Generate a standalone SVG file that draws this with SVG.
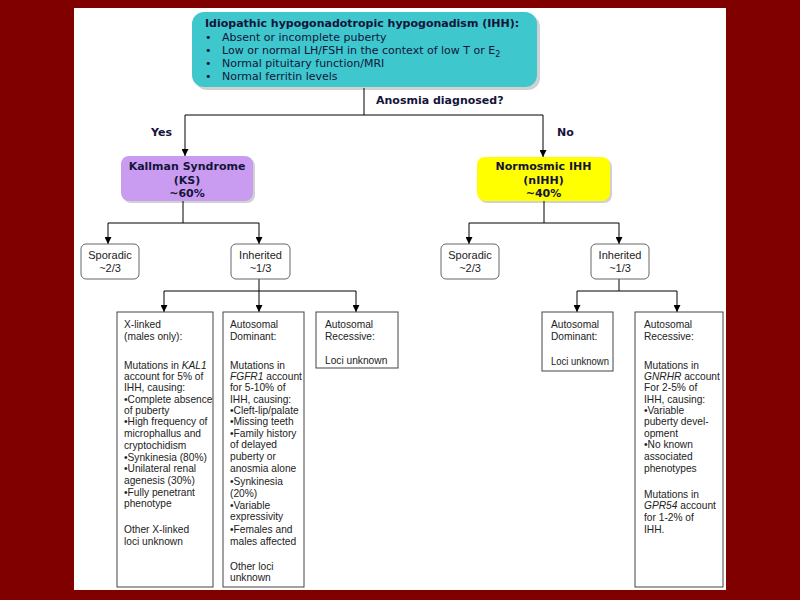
<svg xmlns="http://www.w3.org/2000/svg" width="800" height="600" viewBox="0 0 800 600">
<defs>
<marker id="arr" markerUnits="userSpaceOnUse" markerWidth="7" markerHeight="7" refX="7" refY="3.5" orient="auto">
<path d="M0,0 L7,3.5 L0,7 z" fill="#000"/>
</marker>
<style>
.vb{font-family:"DejaVu Sans",Verdana,sans-serif;font-size:11px;font-weight:bold;fill:#14143a}
.vr{font-family:"DejaVu Sans",Verdana,sans-serif;font-size:11px;fill:#14143a}
.ar{font-family:"Liberation Sans",Arial,sans-serif;font-size:11px;fill:#222}
.sm{font-family:"Liberation Sans",Arial,sans-serif;font-size:10.2px;fill:#222}
.ln{stroke:#000;stroke-width:1;fill:none}
.arw{stroke:#000;stroke-width:1;fill:none;marker-end:url(#arr)}
.rbox{fill:#fff;stroke:#666;stroke-width:1}
.sbox{fill:#fff;stroke:#444;stroke-width:1}
.shadow{fill:#000;opacity:0.18}
</style>
</defs>
<rect x="0" y="0" width="800" height="600" fill="#800000"/>
<rect x="74" y="8" width="652" height="582" fill="#fff"/>

<g id="connectors">
<path class="ln" d="M364,88 V115"/>
<path class="ln" d="M185,115 H543"/>
<path class="arw" d="M185,115 V156"/>
<path class="arw" d="M543,115 V157"/>
<path class="ln" d="M183,201 V223 M108,223 H259"/>
<path class="arw" d="M108,223 V244"/>
<path class="arw" d="M259,223 V244"/>
<path class="ln" d="M259,279 V291 M164,291 H356"/>
<path class="arw" d="M164,291 V312"/>
<path class="arw" d="M259,291 V312"/>
<path class="arw" d="M356,291 V312"/>
<path class="ln" d="M544,201 V223 M469,223 H619"/>
<path class="arw" d="M469,223 V244"/>
<path class="arw" d="M619,223 V244"/>
<path class="ln" d="M619,279 V291 M577,291 H677"/>
<path class="arw" d="M577,291 V312"/>
<path class="arw" d="M677,291 V312"/>
<text class="vb" x="376" y="104">Anosmia diagnosed?</text>
<text class="vb" x="151" y="136">Yes</text>
<text class="vb" x="557" y="136">No</text>
</g>

<g id="ihh">
<rect class="shadow" x="195" y="15" width="345" height="75" rx="12"/>
<rect x="192" y="12" width="345" height="75" rx="12" fill="#3ec7cc"/>
<text class="vb" x="205" y="27">Idiopathic hypogonadotropic hypogonadism (IHH):</text>
<text class="vr" x="205" y="41">•</text><text class="vr" x="222" y="41">Absent or incomplete puberty</text>
<text class="vr" x="205" y="54">•</text><text class="vr" x="222" y="54">Low or normal LH/FSH in the context of low T or E<tspan font-size="8" dy="3">2</tspan></text>
<text class="vr" x="205" y="67">•</text><text class="vr" x="222" y="67">Normal pituitary function/MRI</text>
<text class="vr" x="205" y="80">•</text><text class="vr" x="222" y="80">Normal ferritin levels</text>
</g>

<g id="ks">
<rect class="shadow" x="123" y="158" width="132" height="45" rx="8"/>
<rect x="121" y="156" width="132" height="45" rx="8" fill="#c99cf2"/>
<text class="vb" x="187" y="170" text-anchor="middle">Kallman Syndrome</text>
<text class="vb" x="187" y="184" text-anchor="middle">(KS)</text>
<text class="vb" x="187" y="197" text-anchor="middle">~60%</text>
</g>

<g id="nihh">
<rect class="shadow" x="479" y="159" width="133" height="44" rx="8"/>
<rect x="477" y="157" width="133" height="44" rx="8" fill="#ffff00"/>
<text class="vb" x="543.5" y="170" text-anchor="middle">Normosmic IHH</text>
<text class="vb" x="543.5" y="184" text-anchor="middle">(nIHH)</text>
<text class="vb" x="543.5" y="197" text-anchor="middle">~40%</text>
</g>

<g id="ks-sporadic">
<rect class="rbox" x="81" y="244" width="58" height="35" rx="5"/>
<text class="ar" x="110" y="259" text-anchor="middle">Sporadic</text>
<text class="ar" x="110" y="272" text-anchor="middle">~2/3</text>
</g>
<g id="ks-inherited">
<rect class="rbox" x="231" y="244" width="59" height="35" rx="5"/>
<text class="ar" x="260.5" y="259" text-anchor="middle">Inherited</text>
<text class="ar" x="260.5" y="272" text-anchor="middle">~1/3</text>
</g>
<g id="n-sporadic">
<rect class="rbox" x="441" y="244" width="58" height="35" rx="5"/>
<text class="ar" x="470" y="259" text-anchor="middle">Sporadic</text>
<text class="ar" x="470" y="272" text-anchor="middle">~2/3</text>
</g>
<g id="n-inherited">
<rect class="rbox" x="591" y="244" width="58" height="35" rx="5"/>
<text class="ar" x="620" y="259" text-anchor="middle">Inherited</text>
<text class="ar" x="620" y="272" text-anchor="middle">~1/3</text>
</g>

<g id="x-linked">
<rect class="sbox" x="117" y="312" width="96" height="275"/>
<text class="sm" x="124">
<tspan x="124" y="328">X-linked</tspan>
<tspan x="124" y="340">(males only):</tspan>
<tspan x="124" y="369">Mutations in <tspan font-style="italic">KAL1</tspan></tspan>
<tspan x="124" y="380">account for 5% of</tspan>
<tspan x="124" y="391">IHH, causing:</tspan>
<tspan x="124" y="403">•Complete absence</tspan>
<tspan x="124" y="414">of puberty</tspan>
<tspan x="124" y="425">•High frequency of</tspan>
<tspan x="124" y="437">microphallus and</tspan>
<tspan x="124" y="449">cryptochidism</tspan>
<tspan x="124" y="461">•Synkinesia (80%)</tspan>
<tspan x="124" y="472">•Unilateral renal</tspan>
<tspan x="124" y="484">agenesis (30%)</tspan>
<tspan x="124" y="496">•Fully penetrant</tspan>
<tspan x="124" y="507">phenotype</tspan>
<tspan x="124" y="533">Other X-linked</tspan>
<tspan x="124" y="545">loci unknown</tspan>
</text>
</g>

<g id="ks-ad">
<rect class="sbox" x="223" y="312" width="81" height="275"/>
<text class="sm">
<tspan x="230" y="328">Autosomal</tspan>
<tspan x="230" y="340">Dominant:</tspan>
<tspan x="230" y="369">Mutations in</tspan>
<tspan x="230" y="380"><tspan font-style="italic">FGFR1</tspan> account</tspan>
<tspan x="230" y="391">for 5-10% of</tspan>
<tspan x="230" y="403">IHH, causing:</tspan>
<tspan x="230" y="414">•Cleft-lip/palate</tspan>
<tspan x="230" y="425">•Missing teeth</tspan>
<tspan x="230" y="437">•Family history</tspan>
<tspan x="230" y="448">of delayed</tspan>
<tspan x="230" y="460">puberty or</tspan>
<tspan x="230" y="472">anosmia alone</tspan>
<tspan x="230" y="485">•Synkinesia</tspan>
<tspan x="230" y="497">(20%)</tspan>
<tspan x="230" y="509">•Variable</tspan>
<tspan x="230" y="520">expressivity</tspan>
<tspan x="230" y="533">•Females and</tspan>
<tspan x="230" y="545">males affected</tspan>
<tspan x="230" y="570">Other loci</tspan>
<tspan x="230" y="581">unknown</tspan>
</text>
</g>

<g id="ks-ar">
<rect class="sbox" x="316" y="312" width="82" height="56"/>
<text class="sm">
<tspan x="325" y="328">Autosomal</tspan>
<tspan x="325" y="340">Recessive:</tspan>
<tspan x="325" y="364">Loci unknown</tspan>
</text>
</g>

<g id="n-ad">
<rect class="sbox" x="542" y="312" width="71" height="59"/>
<text class="sm">
<tspan x="551" y="328">Autosomal</tspan>
<tspan x="551" y="340">Dominant:</tspan>
</text>
<text class="sm" x="551" y="365" textLength="58" lengthAdjust="spacingAndGlyphs">Loci unknown</text>
</g>

<g id="n-ar">
<rect class="sbox" x="635" y="312" width="88" height="275"/>
<text class="sm">
<tspan x="644" y="328">Autosomal</tspan>
<tspan x="644" y="340">Recessive:</tspan>
<tspan x="644" y="369">Mutations in</tspan>
<tspan x="644" y="380"><tspan font-style="italic">GNRHR</tspan> account</tspan>
<tspan x="644" y="391">For 2-5% of</tspan>
<tspan x="644" y="403">IHH, causing:</tspan>
<tspan x="644" y="414">•Variable</tspan>
<tspan x="644" y="425">puberty devel-</tspan>
<tspan x="644" y="437">opment</tspan>
<tspan x="644" y="448">•No known</tspan>
<tspan x="644" y="460">associated</tspan>
<tspan x="644" y="472">phenotypes</tspan>
<tspan x="644" y="498">Mutations in</tspan>
<tspan x="644" y="509"><tspan font-style="italic">GPR54</tspan> account</tspan>
<tspan x="644" y="521">for 1-2% of</tspan>
<tspan x="644" y="533">IHH.</tspan>
</text>
</g>
</svg>
